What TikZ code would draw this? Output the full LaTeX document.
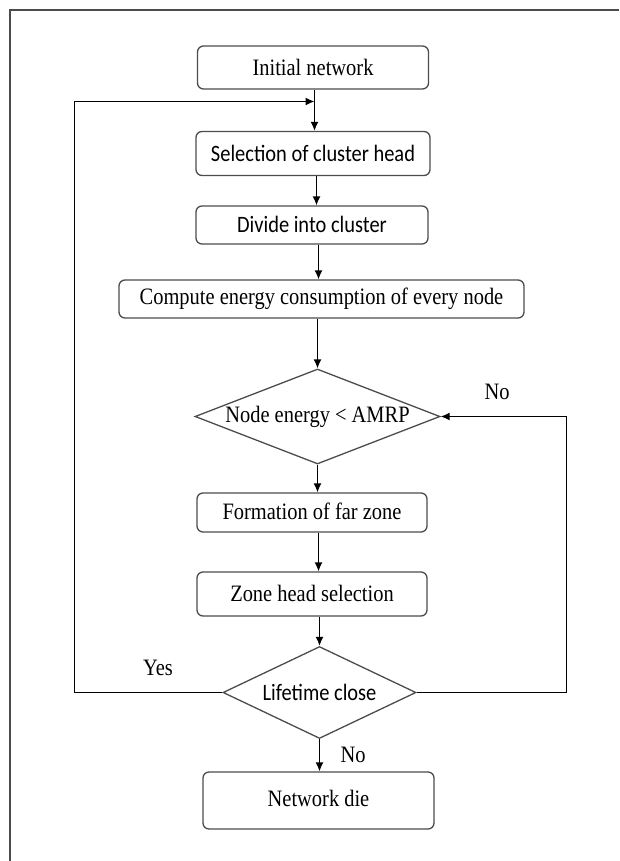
\documentclass[tikz,border=0pt]{standalone}
\usepackage{fontspec}
\setmainfont{Liberation Serif}
\newfontfamily\calib{Carlito}
\usetikzlibrary{shapes.geometric,arrows.meta}
\newcommand{\tx}[1]{\scalebox{0.87}[1]{#1}}
\begin{document}
\begin{tikzpicture}[x=1pt,y=-1pt,
  box/.style={draw=black!70, line width=1.3pt, rounded corners=6pt, inner sep=0pt,
              font=\fontsize{23.5}{26}\selectfont},
  dec/.style={draw=black!70, line width=1.3pt, diamond, inner sep=0pt,
              font=\fontsize{23.5}{26}\selectfont},
  cal/.style={font=\calib\fontsize{23.5}{26}\selectfont},
  conn/.style={line width=1.3pt, draw=black, -{Latex[length=9pt,width=8pt]}},
  lbl/.style={font=\fontsize{23.5}{26}\selectfont, inner sep=0pt}]
\useasboundingbox (0,0) rectangle (619,861);
% frame
\draw[black!70, line width=1.4pt] (10,861) -- (10,10) -- (619,10);

\node[box, minimum width=231pt, minimum height=43pt] (init) at (313,67.5) {\raisebox{-5pt}{\tx{Initial network}}};
\node[box, cal, minimum width=234pt, minimum height=44pt] (sel) at (313,153.5) {\tx{Selection of cluster head}};
\node[box, cal, minimum width=232pt, minimum height=38pt] (div) at (312,225) {\raisebox{1pt}{\tx{Divide into cluster}}};
\node[box, minimum width=405pt, minimum height=38pt] (comp) at (321.5,299) {\tx{Compute energy consumption of every node}};
\node[dec, aspect=2.58, minimum width=245pt, minimum height=95pt] (ne) at (317.5,416.5) {\tx{Node energy < AMRP}};
\node[box, minimum width=230pt, minimum height=39pt] (far) at (312,512.5) {\raisebox{2pt}{\tx{Formation of far zone}}};
\node[box, minimum width=230pt, minimum height=44pt] (zone) at (312,594) {\raisebox{2pt}{\tx{Zone head selection}}};
\node[dec, cal, aspect=2.0, minimum width=193pt, minimum height=92pt] (life) at (319.5,692.5) {\tx{Lifetime close}};
\node[box, minimum width=231pt, minimum height=57pt] (die) at (318.5,800.5) {\raisebox{5pt}{\tx{Network die}}};

\node[lbl] (no1) at (497,392) {\tx{No}};
\node[lbl] (yes) at (158,668) {\tx{Yes}};
\node[lbl] (no2) at (353,755) {\tx{No}};

\coordinate (fb) at (314.5,101.5);
\coordinate (lx) at (74.5,0);
\coordinate (rx) at (566.5,0);

\draw[conn] (init.south -| fb) -- (sel.north -| fb);
\draw[conn] (sel.south -| 316.5,0) -- (div.north -| 316.5,0);
\draw[conn] (div.south -| 318.5,0) -- (comp.north -| 318.5,0);
\draw[conn] (comp.south -| ne.north) -- (ne.north);
\draw[conn] (ne.south) -- (far.north -| ne.south);
\draw[conn] (far.south -| 318.5,0) -- (zone.north -| 318.5,0);
\draw[conn] (zone.south -| life.north) -- (life.north);
\draw[conn] (life.south) -- (die.north -| life.south);
\draw[conn] (life.west) -- (life.west -| lx) -- (lx |- fb) -- (fb);
\draw[conn] (life.east) -- (life.east -| rx) -- (rx |- ne.east) -- (ne.east);
\end{tikzpicture}
\end{document}
